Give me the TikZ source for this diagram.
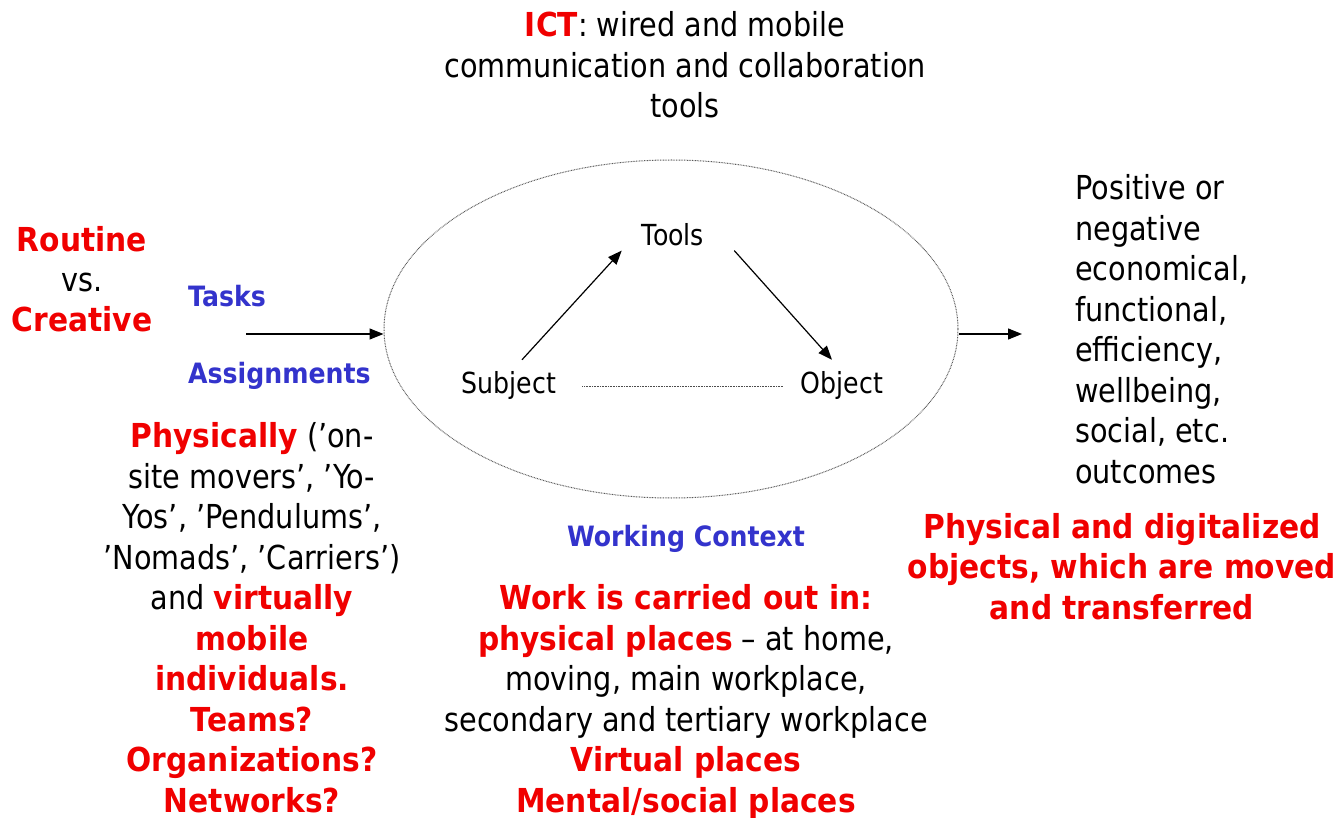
\documentclass[tikz,border=0pt]{standalone}
\usepackage{fontspec}
\setmainfont{DejaVu Sans}[FakeStretch=0.87,BoldFeatures={FakeStretch=0.9}]
\usetikzlibrary{arrows.meta,shapes.geometric}
\definecolor{tred}{RGB}{240,0,0}
\definecolor{tblue}{RGB}{51,51,204}
\newcommand{\rb}[1]{{\color{tred}\bfseries #1}}
\begin{document}
\begin{tikzpicture}[x=1pt,y=-1pt,
  txt/.style={inner sep=0pt, font=\fontsize{33}{40.5}\selectfont, align=center},
  redb/.style={txt, text=tred, font=\fontsize{33}{40.5}\selectfont\bfseries},
  blueb/.style={inner sep=0pt, text=tblue, font=\fontsize{28}{34}\selectfont\bfseries},
  inlabel/.style={inner sep=0pt, font=\fontsize{29}{35}\selectfont},
  arr/.style={-{Triangle[length=14pt,width=11pt]}, line width=1.2pt},
  ctxshape/.style={ellipse, draw=black!65, dash pattern=on 0.8pt off 0.8pt, line width=1pt}
]
\useasboundingbox (0,0) rectangle (1342,818);

% top text (anchor=base is the last line's baseline)
\node[txt, anchor=base] (ict) at (685,118) {\rb{ICT}: wired and mobile\\communication and collaboration\\tools};

% left texts
\node[redb, anchor=base] (rc) at (82,332) {Routine\\{\color{black}\mdseries vs.}\\Creative};
\node[blueb, anchor=base west] (tasks) at (188,307) {Tasks};
\node[blueb, anchor=base west] (assign) at (188,384) {Assignments};

% context ellipse
\node[ctxshape, minimum width=574pt, minimum height=338pt] (ctx) at (671,329) {};

% inner triangle
\node[inlabel, anchor=base] (tools) at (673,246) {Tools};
\node[inlabel, anchor=base] (subj) at (509,394) {Subject};
\node[inlabel, anchor=base] (obj) at (842,394) {Object};

\draw[arr] ([xshift=13pt,yshift=12pt]subj.north) -- ([xshift=-20pt,yshift=-4pt]tools.south west);
\draw[arr] ([xshift=30pt,yshift=-4pt]tools.south east) -- ([xshift=-10pt,yshift=12pt]obj.north);
\draw[black!70, dash pattern=on 0.8pt off 0.8pt, line width=0.9pt, shorten <=26pt, shorten >=18pt] (subj.east) -- (obj.west);

% in / out arrows
\coordinate (tin) at (246,334);
\coordinate (tout) at (1022,334);
\draw[arr] (tin) -- (tin -| ctx.west);
\draw[arr] (tout -| ctx.east) -- (tout);

% right texts
\node[txt, align=left, anchor=base west] (outc) at (1075,483) {Positive or\\negative\\economical,\\functional,\\efficiency,\\wellbeing,\\social, etc.\\outcomes};
\node[redb, anchor=base] (phys) at (1122,619) {Physical and digitalized\\objects, which are moved\\and transferred};

% bottom centre
\node[blueb, anchor=base] (wctx) at (686,546) {Working Context};
\node[txt, anchor=base] (work) at (686,812) {\rb{Work is carried out in:}\\\rb{physical places} -- at home,\\moving, main workplace,\\secondary and tertiary workplace\\\rb{Virtual places}\\\rb{Mental/social places}};

% bottom left
\node[txt, anchor=base] (mob) at (252,812) {\rb{Physically} (’on-\\site movers’, ’Yo-\\Yos’, ’Pendulums’,\\’Nomads’, ’Carriers’)\\and \rb{virtually}\\\rb{mobile}\\\rb{individuals.}\\\rb{Teams?}\\\rb{Organizations?}\\\rb{Networks?}};
\end{tikzpicture}
\end{document}
